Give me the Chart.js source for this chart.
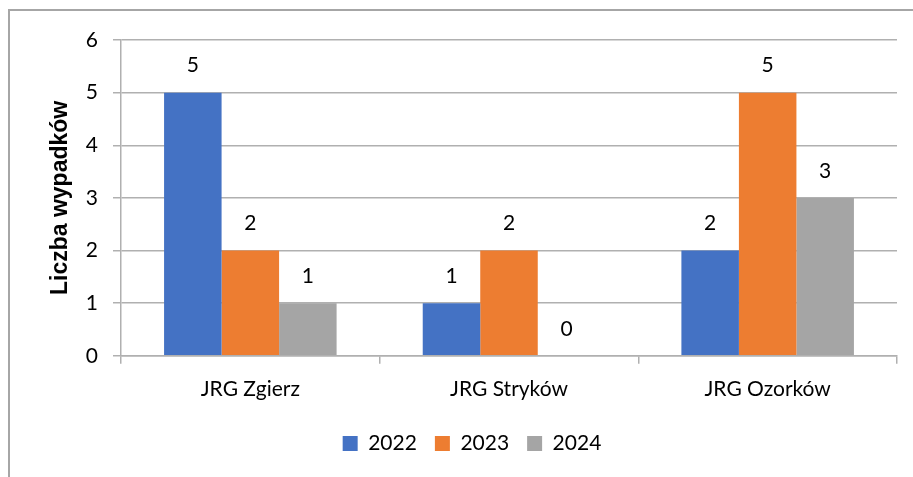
<!DOCTYPE html>
<html>
<head>
<meta charset="utf-8">
<script src="https://cdn.jsdelivr.net/npm/chart.js@4"></script>
<style>
  html, body { margin: 0; padding: 0; background: #fff; }
  #frame {
    position: absolute; left: 8px; top: 9px; width: 920px; height: 480px;
    border: 2px solid #a6a6a6; box-sizing: border-box;
  }
  #wrap { position: absolute; left: 0; top: 0; width: 913px; height: 477px; }
</style>
</head>
<body>
<div id="frame"></div>
<div id="wrap"><canvas id="chart" width="913" height="477"></canvas></div>
<script>
// Data
const stations = ["JRG Zgierz", "JRG Stryków", "JRG Ozorków"];
const years = ["2022", "2023", "2024"];
const cases2022 = [5, 1, 2];
const cases2023 = [2, 2, 5];
const cases2024 = [1, 0, 3];
const yTicks = [0, 1, 2, 3, 4, 5, 6];

const colors = ["#4472C4", "#ED7D31", "#A5A5A5"];
const gridColor = "#b0b0b0";
const fontFamily = "Lato, 'Liberation Sans', sans-serif";
const fontSize = 21;

// Value labels above every bar
const valueLabels = {
  id: "valueLabels",
  afterDatasetsDraw(chart) {
    const ctx = chart.ctx;
    ctx.save();
    ctx.font = fontSize + "px " + fontFamily;
    ctx.fillStyle = "#000";
    ctx.textAlign = "center";
    ctx.textBaseline = "middle";
    chart.data.datasets.forEach((ds, i) => {
      chart.getDatasetMeta(i).data.forEach((bar, j) => {
        ctx.fillText(String(ds.data[j]), bar.x, bar.y - 27);
      });
    });
    ctx.restore();
  }
};

const seriesData = [cases2022, cases2023, cases2024];

new Chart(document.getElementById("chart"), {
  type: "bar",
  data: {
    labels: stations,
    datasets: years.map((y, i) => ({
      label: y,
      data: seriesData[i],
      backgroundColor: colors[i],
      borderWidth: 0,
      categoryPercentage: 0.667,
      barPercentage: 1.0
    }))
  },
  plugins: [valueLabels],
  options: {
    responsive: false,
    animation: false,
    layout: { padding: { left: 47, right: 16, top: 40, bottom: 13 } },
    plugins: {
      tooltip: { enabled: false },
      legend: {
        position: "bottom",
        labels: {
          boxWidth: 15,
          boxHeight: 15,
          padding: 18,
          color: "#000",
          font: { family: fontFamily, size: fontSize }
        }
      }
    },
    scales: {
      x: {
        grid: {
          drawOnChartArea: false,
          drawTicks: true,
          tickLength: 8,
          color: gridColor,
          lineWidth: 1.5
        },
        border: { display: true, color: gridColor, width: 1.5 },
        ticks: {
          color: "#000",
          padding: 13,
          font: { family: fontFamily, size: fontSize }
        }
      },
      y: {
        min: 0,
        max: 6,
        afterBuildTicks(scale) {
          scale.ticks = yTicks.map(v => ({ value: v }));
        },
        afterFit(scale) { scale.width = 74; },
        grid: {
          color: gridColor,
          lineWidth: 1.5,
          tickLength: 8
        },
        border: { display: true, color: gridColor, width: 1.5 },
        ticks: {
          color: "#000",
          padding: 15,
          font: { family: fontFamily, size: fontSize }
        },
        title: {
          display: true,
          text: "Liczba wypadków",
          color: "#000",
          padding: { top: 0, bottom: 0 },
          font: { family: "'Liberation Sans', Arial, sans-serif", size: 23, weight: "bold" }
        }
      }
    }
  }
});
</script>
</body>
</html>
